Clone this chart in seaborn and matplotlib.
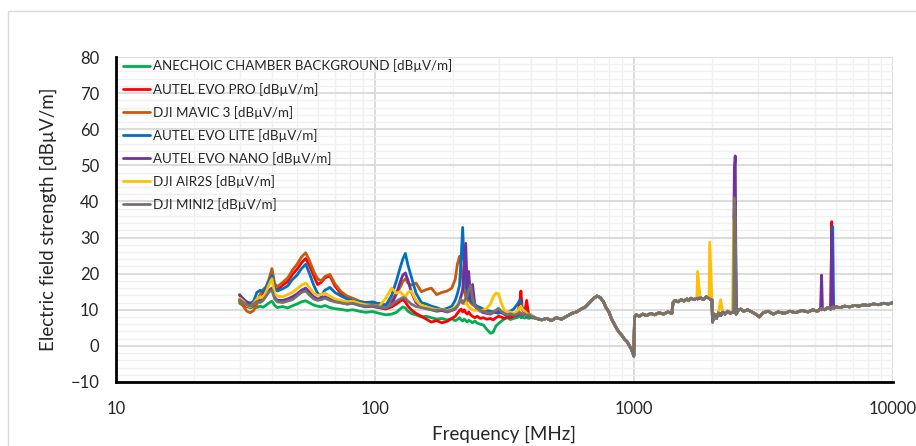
import numpy as np
import pandas as pd
import matplotlib
matplotlib.use("Agg")
import matplotlib.pyplot as plt
import seaborn as sns
from matplotlib.ticker import FixedLocator, NullFormatter, FixedFormatter
from matplotlib.lines import Line2D

# --- data (frequency in MHz, level in dBuV/m) ---

# 30-400 MHz: each measurement has its own shape
low_freq = [30, 31, 32, 33, 34, 35, 36, 37, 38, 39, 40, 41, 42, 44, 46, 48, 50, 52, 54, 56,
            58, 60, 62, 64, 67, 70, 74, 78, 82, 87, 92, 98, 104, 110, 116, 121, 125, 128, 131, 134,
            138, 144, 151, 158, 165, 173, 181, 190, 198, 204, 208, 212, 215, 218, 221, 224, 227, 230, 234, 238,
            243, 248, 255, 262, 270, 279, 286, 293, 300, 307, 315, 324, 333, 343, 355, 362, 366, 370, 378, 385,
            392, 400]

low_background = [11.8, 11.2, 10.9, 10.5, 10.9, 10.6, 11.0, 10.7, 11.3, 11.9, 12.4, 11.2, 10.6, 10.9, 10.5, 11.1, 11.6, 12.2, 12.5, 11.9,
                  11.3, 11.0, 10.8, 11.2, 10.6, 10.3, 10.1, 9.8, 10.0, 9.6, 9.3, 9.5, 9.0, 8.6, 8.8, 9.3, 10.2, 10.8, 10.5, 9.6,
                  9.0, 8.6, 8.0, 8.2, 7.8, 7.4, 7.6, 7.2, 7.5, 7.0, 7.3, 7.8, 7.2, 6.9, 7.4, 7.0, 6.6, 7.1, 6.8, 6.4,
                  6.9, 6.3, 6.0, 5.8, 4.6, 3.5, 3.8, 5.5, 6.2, 6.8, 7.4, 7.8, 7.3, 7.6, 7.9, 8.2, 7.8, 8.0, 7.7, 7.9,
                  7.6, 7.8]
low_evo_pro = [12.4, 11.6, 11.0, 10.8, 11.4, 12.6, 14.0, 14.8, 15.6, 17.2, 19.2, 16.0, 15.6, 16.8, 17.8, 19.8, 21.2, 23.0, 24.2, 22.0,
               19.4, 17.0, 17.6, 18.8, 19.4, 16.6, 14.4, 13.2, 12.6, 12.0, 11.4, 11.0, 10.6, 10.2, 10.8, 11.6, 12.4, 12.8, 12.2, 11.0,
               10.0, 9.0, 8.2, 7.4, 6.6, 7.0, 6.4, 6.8, 7.6, 8.2, 9.0, 9.8, 10.2, 9.4, 10.0, 9.2, 8.8, 9.4, 8.6, 8.2,
               7.8, 8.2, 7.6, 7.8, 7.4, 7.6, 7.2, 7.8, 8.2, 8.0, 7.6, 8.0, 7.8, 8.2, 8.6, 12.0, 15.2, 10.2, 9.0, 12.6,
               8.6, 8.2]
low_mavic3 = [12.6, 11.0, 9.6, 9.2, 9.8, 11.5, 14.2, 15.6, 16.4, 18.6, 21.4, 17.2, 16.4, 17.6, 18.8, 21.0, 22.6, 24.6, 25.8, 23.4,
              20.6, 18.6, 18.0, 19.2, 19.8, 17.2, 15.0, 13.8, 13.2, 12.4, 12.0, 11.6, 11.8, 11.4, 12.6, 14.6, 16.2, 17.8, 18.6, 17.4,
              16.8, 17.4, 15.0, 15.6, 16.0, 14.2, 14.8, 15.2, 16.0, 18.4, 22.6, 24.8, 22.0, 18.4, 15.2, 13.6, 12.4, 12.8, 12.0, 11.4,
              11.0, 10.6, 10.2, 9.8, 9.6, 9.2, 9.4, 9.8, 9.6, 9.2, 8.9, 9.2, 8.8, 8.6, 8.9, 8.7, 9.0, 8.6, 8.8, 8.4,
              8.7, 8.3]
low_evo_lite = [14.0, 13.0, 12.2, 11.8, 12.4, 14.8, 15.4, 15.0, 16.2, 18.0, 19.6, 16.0, 15.2, 15.8, 16.6, 18.4, 19.6, 21.4, 22.6, 19.8,
                16.8, 14.6, 13.8, 15.4, 16.2, 14.8, 13.8, 13.0, 12.6, 12.2, 12.0, 12.2, 11.6, 11.2, 14.0, 18.0, 21.6, 24.0, 25.6, 22.4,
                19.2, 14.6, 12.0, 11.6, 11.0, 10.6, 10.0, 10.4, 11.0, 12.6, 14.4, 16.8, 24.0, 32.8, 22.0, 17.0, 14.6, 13.2, 12.6, 12.0,
                11.4, 11.0, 10.6, 10.2, 9.8, 9.6, 9.4, 9.2, 9.0, 9.4, 9.0, 9.2, 9.6, 10.2, 11.6, 12.6, 12.0, 10.6, 9.4, 9.0,
                8.8, 8.6]
low_evo_nano = [14.2, 12.8, 12.0, 11.6, 12.0, 12.6, 12.4, 13.0, 14.0, 15.4, 16.0, 13.4, 12.6, 12.6, 13.0, 13.6, 14.4, 15.4, 16.0, 14.8,
                13.6, 13.0, 13.2, 13.6, 13.0, 12.4, 12.0, 11.6, 11.8, 11.2, 10.8, 11.0, 10.6, 10.4, 11.6, 14.4, 17.6, 19.6, 20.2, 18.2,
                15.0, 12.0, 10.8, 10.4, 10.0, 9.6, 9.8, 9.4, 9.8, 10.2, 11.0, 12.4, 13.8, 15.6, 22.0, 28.4, 16.0, 20.6, 13.0, 17.0,
                11.4, 10.0, 9.6, 9.2, 9.0, 8.8, 9.2, 9.6, 9.8, 9.4, 8.8, 8.4, 8.8, 8.4, 8.6, 9.0, 8.8, 8.4, 8.8, 8.2,
                8.6, 8.2]
low_air2s = [13.2, 12.4, 11.2, 10.8, 11.8, 13.0, 13.6, 13.4, 15.0, 17.0, 18.6, 14.4, 13.8, 13.6, 14.2, 14.8, 15.8, 16.8, 17.4, 16.0,
             14.6, 14.0, 14.2, 14.6, 13.8, 13.0, 12.6, 12.2, 12.4, 11.8, 11.4, 11.2, 11.0, 13.2, 16.0, 14.6, 15.0, 14.2, 13.6, 14.8,
             15.2, 12.6, 11.2, 10.8, 10.4, 10.0, 10.2, 9.8, 10.2, 10.8, 11.4, 12.0, 12.8, 12.2, 11.6, 12.4, 11.4, 10.8, 10.4, 10.0,
             9.8, 10.0, 9.6, 10.0, 10.4, 11.6, 13.6, 14.6, 14.4, 12.0, 10.0, 9.2, 9.4, 9.0, 9.6, 10.6, 11.0, 10.2, 9.6, 9.0,
             8.8, 8.6]
low_mini2 = [12.8, 12.0, 11.4, 11.0, 11.6, 12.3, 12.0, 12.6, 13.8, 15.0, 15.4, 13.0, 12.2, 12.0, 12.4, 12.8, 13.8, 14.8, 15.2, 14.0,
             13.0, 12.6, 12.8, 13.2, 12.6, 12.2, 11.9, 11.6, 11.8, 11.3, 11.0, 11.2, 10.8, 10.5, 11.4, 12.4, 13.0, 13.4, 13.2, 12.4,
             11.6, 10.9, 10.6, 10.3, 10.0, 9.8, 10.1, 9.6, 9.9, 10.4, 11.0, 12.0, 12.8, 11.8, 12.4, 13.2, 14.0, 15.4, 16.8, 13.0,
             11.2, 10.4, 9.8, 9.6, 9.2, 9.0, 9.4, 9.8, 10.4, 9.6, 9.0, 8.6, 8.9, 8.5, 8.8, 9.3, 9.0, 8.6, 8.9, 8.4,
             8.7, 8.3]

# 420 MHz - 10 GHz: all traces share the floor, only the emission lines differ
high_freq = [420, 440, 460, 480, 500, 525, 550, 575, 600, 625, 650, 675, 700, 720, 740, 760, 780, 800, 820, 840,
             860, 880, 900, 920, 940, 960, 975, 990, 998, 1005, 1020, 1050, 1080, 1120, 1160, 1200, 1250, 1300, 1350, 1400,
             1415, 1440, 1480, 1520, 1560, 1600, 1620, 1660, 1700, 1750, 1760, 1800, 1850, 1900, 1950, 1960, 2000, 2010, 2040, 2080,
             2120, 2160, 2200, 2250, 2300, 2350, 2400, 2425, 2440, 2460, 2480, 2520, 2580, 2650, 2750, 2850, 2950, 3050, 3150, 3300,
             3450, 3600, 3800, 4000, 4200, 4450, 4700, 4900, 5100, 5250, 5300, 5340, 5450, 5600, 5750, 5800, 5850, 5900, 6000, 6250,
             6500, 6800, 7100, 7400, 7700, 8000, 8400, 8800, 9200, 9600, 10000]
high_floor = [7.6, 7.2, 7.6, 7.0, 7.8, 7.4, 8.2, 9.0, 9.4, 10.2, 10.8, 12.0, 13.2, 13.8, 13.4, 12.4, 10.6, 9.4, 7.4, 6.0,
              4.6, 3.6, 2.8, 1.8, 1.2, 0.0, -0.8, -2.0, -2.8, 8.0, 8.6, 8.2, 8.8, 8.4, 9.0, 8.6, 9.2, 8.8, 9.4, 9.0,
              12.0, 12.6, 12.2, 12.8, 12.4, 13.0, 12.6, 13.2, 12.8, 13.2, 13.0, 13.4, 12.8, 13.6, 13.2, 13.0, 12.8, 6.6, 8.8, 7.6,
              9.2, 8.4, 9.4, 8.8, 9.6, 9.0, 9.4, 9.2, 9.6, 9.4, 8.8, 9.8, 10.2, 9.6, 10.0, 9.4, 8.8, 8.0, 9.2, 9.6,
              8.8, 9.4, 9.0, 9.6, 9.2, 9.8, 9.4, 10.0, 9.6, 10.2, 10.0, 10.4, 10.0, 10.6, 10.2, 10.4, 10.8, 10.4, 10.8, 10.6,
              11.0, 10.8, 11.2, 11.0, 11.4, 11.2, 11.6, 11.4, 11.8, 11.6, 12.0]

spikes_background = {}
spikes_evo_pro = {2440: 45.0, 2460: 30.0, 5800: 34.4}
spikes_mavic3 = {2440: 38.0, 2460: 28.0}
spikes_evo_lite = {2440: 36.0, 2460: 40.0, 5850: 33.0}
spikes_evo_nano = {2440: 49.0, 2460: 52.6, 5300: 19.6, 5800: 31.5}
spikes_air2s = {1760: 20.6, 1960: 28.7, 2160: 12.8, 2425: 35.0}
spikes_mini2 = {2440: 41.0, 2460: 38.0}

labels = ["ANECHOIC CHAMBER BACKGROUND [dBµV/m]", "AUTEL EVO PRO [dBµV/m]", "DJI MAVIC 3 [dBµV/m]",
          "AUTEL EVO LITE [dBµV/m]", "AUTEL EVO NANO [dBµV/m]", "DJI AIR2S [dBµV/m]", "DJI MINI2 [dBµV/m]"]
colors = ["#00B050", "#FF0000", "#C55A11", "#0070C0", "#7030A0", "#FFC000", "#767171"]

lows = [low_background, low_evo_pro, low_mavic3, low_evo_lite, low_evo_nano, low_air2s, low_mini2]
spikes = [spikes_background, spikes_evo_pro, spikes_mavic3, spikes_evo_lite, spikes_evo_nano, spikes_air2s, spikes_mini2]

sns.set_style("white")
plt.rcParams['font.family'] = ['Lato', 'DejaVu Sans']

fig = plt.figure(figsize=(9.16, 4.46), dpi=100)
ax = fig.add_axes([116 / 916, 64 / 446, 777 / 916, 325 / 446])

# light frame around the whole chart area, Excel style
fig.add_artist(Line2D([8 / 916, 8 / 916], [0, 1 - 11 / 446], color="#D9D9D9", lw=1, transform=fig.transFigure))
fig.add_artist(Line2D([8 / 916, 1], [1 - 11 / 446, 1 - 11 / 446], color="#D9D9D9", lw=1, transform=fig.transFigure))

for lab, col, low, sp in zip(labels, colors, lows, spikes):
    high = [sp.get(f, v) for f, v in zip(high_freq, high_floor)]
    df = pd.DataFrame({"freq": low_freq + high_freq, "level": low + high})
    sns.lineplot(data=df, x="freq", y="level", color=col, label=lab, linewidth=2.0,
                 estimator=None, ax=ax)

ax.set_xscale("log")
ax.set_xlim(10, 10000)
ax.set_ylim(-10, 80)

major_x = [10, 100, 1000, 10000]
minor_x = [m * d for d in [10, 100, 1000] for m in range(2, 10)]
ax.xaxis.set_major_locator(FixedLocator(major_x))
ax.xaxis.set_major_formatter(FixedFormatter([str(v) for v in major_x]))
ax.xaxis.set_minor_locator(FixedLocator(minor_x))
ax.xaxis.set_minor_formatter(NullFormatter())
ax.set_yticks(np.arange(-10, 81, 10))
ax.set_yticks(np.arange(-10, 81, 2), minor=True)

ax.grid(which="major", color="#D9D9D9", linewidth=1.3)
ax.grid(which="minor", color="#F0F0F0", linewidth=1.0)
ax.set_axisbelow(True)

for s in ["top", "right"]:
    ax.spines[s].set_visible(False)
for s in ["left", "bottom"]:
    ax.spines[s].set_color("black")
    ax.spines[s].set_linewidth(2)

ax.tick_params(which="both", length=0)
ax.tick_params(axis="x", labelsize=12, pad=14, colors="#262626")
ax.tick_params(axis="y", labelsize=12, pad=12, colors="#262626")

ax.set_xlabel("Frequency [MHz]", fontsize=13.5, color="#262626", labelpad=6)
ax.set_ylabel("Electric field strength [dBµV/m]", fontsize=13.5, color="#262626", labelpad=10)

leg = ax.legend(loc="upper left", bbox_to_anchor=(0.0, 1.015), frameon=False, fontsize=9.6,
                handlelength=2.0, handletextpad=0.25, labelspacing=0.76, borderaxespad=0.15)
for line in leg.get_lines():
    line.set_linewidth(2)
for t in leg.get_texts():
    t.set_color("#262626")

fig.savefig("out.png", dpi=100)
